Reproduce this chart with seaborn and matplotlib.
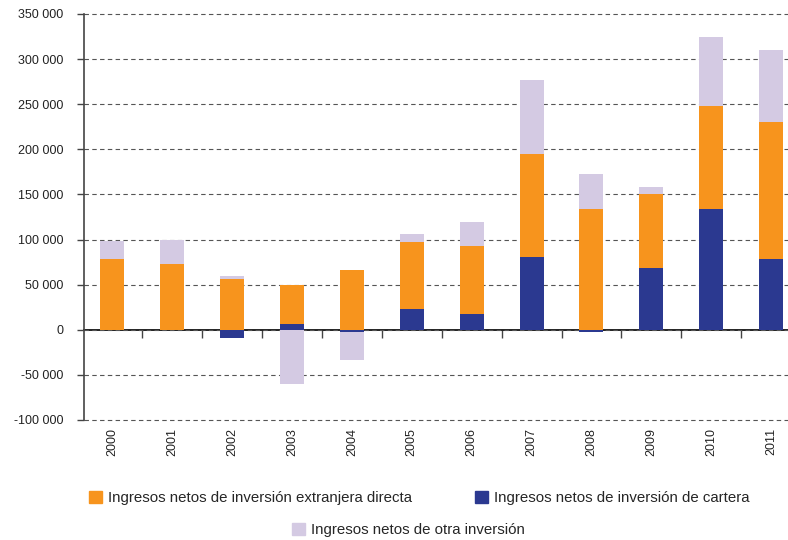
import matplotlib
matplotlib.use("Agg")
import matplotlib.pyplot as plt
from matplotlib.ticker import FuncFormatter, FixedLocator
from matplotlib.patches import Patch
import seaborn as sns
import pandas as pd
import numpy as np

years = ['2000', '2001', '2002', '2003', '2004', '2005',
         '2006', '2007', '2008', '2009', '2010', '2011']
directa = [78500, 73000, 56500, 43300, 66800, 74100,
           74500, 114100, 134000, 81500, 114100, 152300]
cartera = [0, 0, -9500, 5900, -2200, 23100,
           18000, 80400, -2900, 68600, 134000, 78500]
otra = [19500, 26500, 3000, -59800, -31200, 9200,
        27500, 82900, 38200, 8400, 76300, 79600]

c_directa = '#F7941D'
c_cartera = '#2B3990'
c_otra = '#D4CAE3'

lab_directa = 'Ingresos netos de inversión extranjera directa'
lab_cartera = 'Ingresos netos de inversión de cartera'
lab_otra = 'Ingresos netos de otra inversión'

sns.set_style('white')
plt.rcParams['font.family'] = ['Liberation Sans', 'DejaVu Sans']

df = pd.DataFrame({'year': years, 'directa': directa,
                   'cartera': cartera, 'otra': otra})
car_pos = df['cartera'].clip(lower=0)
car_neg = df['cartera'].clip(upper=0)
df['b_directa'] = car_pos
df['b_otra'] = np.where(df['otra'] >= 0, car_pos + df['directa'], car_neg)

fig = plt.figure(figsize=(7.88, 5.4), dpi=100)
ax = fig.add_axes([84 / 788, 120 / 540, 704 / 788, 406 / 540])

bar_kw = dict(x='year', order=years, width=0.4, errorbar=None,
              linewidth=0, ax=ax)
sns.barplot(data=df, y='cartera', color=c_cartera, saturation=1, **bar_kw)
sns.barplot(data=df, y='directa', color=c_directa, saturation=1,
            bottom=df['b_directa'].values, **bar_kw)
sns.barplot(data=df, y='otra', color=c_otra, saturation=1,
            bottom=df['b_otra'].values, **bar_kw)

ax.set_xlim(-0.47, 11.28)
ax.set_ylim(-100000, 350000)
ax.set_yticks(np.arange(-100000, 350001, 50000))
ax.yaxis.set_major_formatter(
    FuncFormatter(lambda v, p: f'{v:,.0f}'.replace(',', ' ')))
ax.grid(axis='y', linestyle=(0, (4, 3)), color='#555555', linewidth=0.8)
for gl in ax.get_ygridlines():
    gl.set_clip_on(False)
ax.set_axisbelow(True)
ax.set_xlabel('')
ax.set_ylabel('')

for s in ['top', 'right', 'bottom']:
    ax.spines[s].set_visible(False)
ax.spines['left'].set_color('#444444')
ax.spines['left'].set_linewidth(1.2)

ax.tick_params(axis='y', left=True, length=5, width=1, color='#444444',
               pad=10, labelsize=9, labelcolor='#222222')
ax.tick_params(axis='x', bottom=False, length=0, pad=6, labelsize=9,
               labelcolor='#222222')
ax.set_xticks(range(len(years)))
ax.set_xticklabels(years, rotation=90)

# zero line with ticks between categories
zero_frac = 100000 / 450000
sec = ax.secondary_xaxis(zero_frac)
sec.spines['bottom'].set_color('#222222')
sec.spines['bottom'].set_linewidth(1.4)
sec.xaxis.set_major_locator(FixedLocator(np.arange(0.5, 11, 1.0)))
sec.tick_params(axis='x', direction='out', length=6, width=1,
                color='#444444', labelbottom=False)

handles1 = [Patch(color=c_directa, label=lab_directa),
            Patch(color=c_cartera, label=lab_cartera)]
fig.legend(handles=handles1, loc='center', ncol=2,
           bbox_to_anchor=(0.532, 1 - 498 / 540), frameon=False,
           fontsize=10.8, handlelength=0.85, handleheight=0.85,
           handletextpad=0.4, columnspacing=4.2)
fig.legend(handles=[Patch(color=c_otra, label=lab_otra)], loc='center',
           bbox_to_anchor=(0.518, 1 - 530 / 540), frameon=False,
           fontsize=10.8, handlelength=0.85, handleheight=0.85,
           handletextpad=0.4)

fig.savefig('out.png', dpi=100)
